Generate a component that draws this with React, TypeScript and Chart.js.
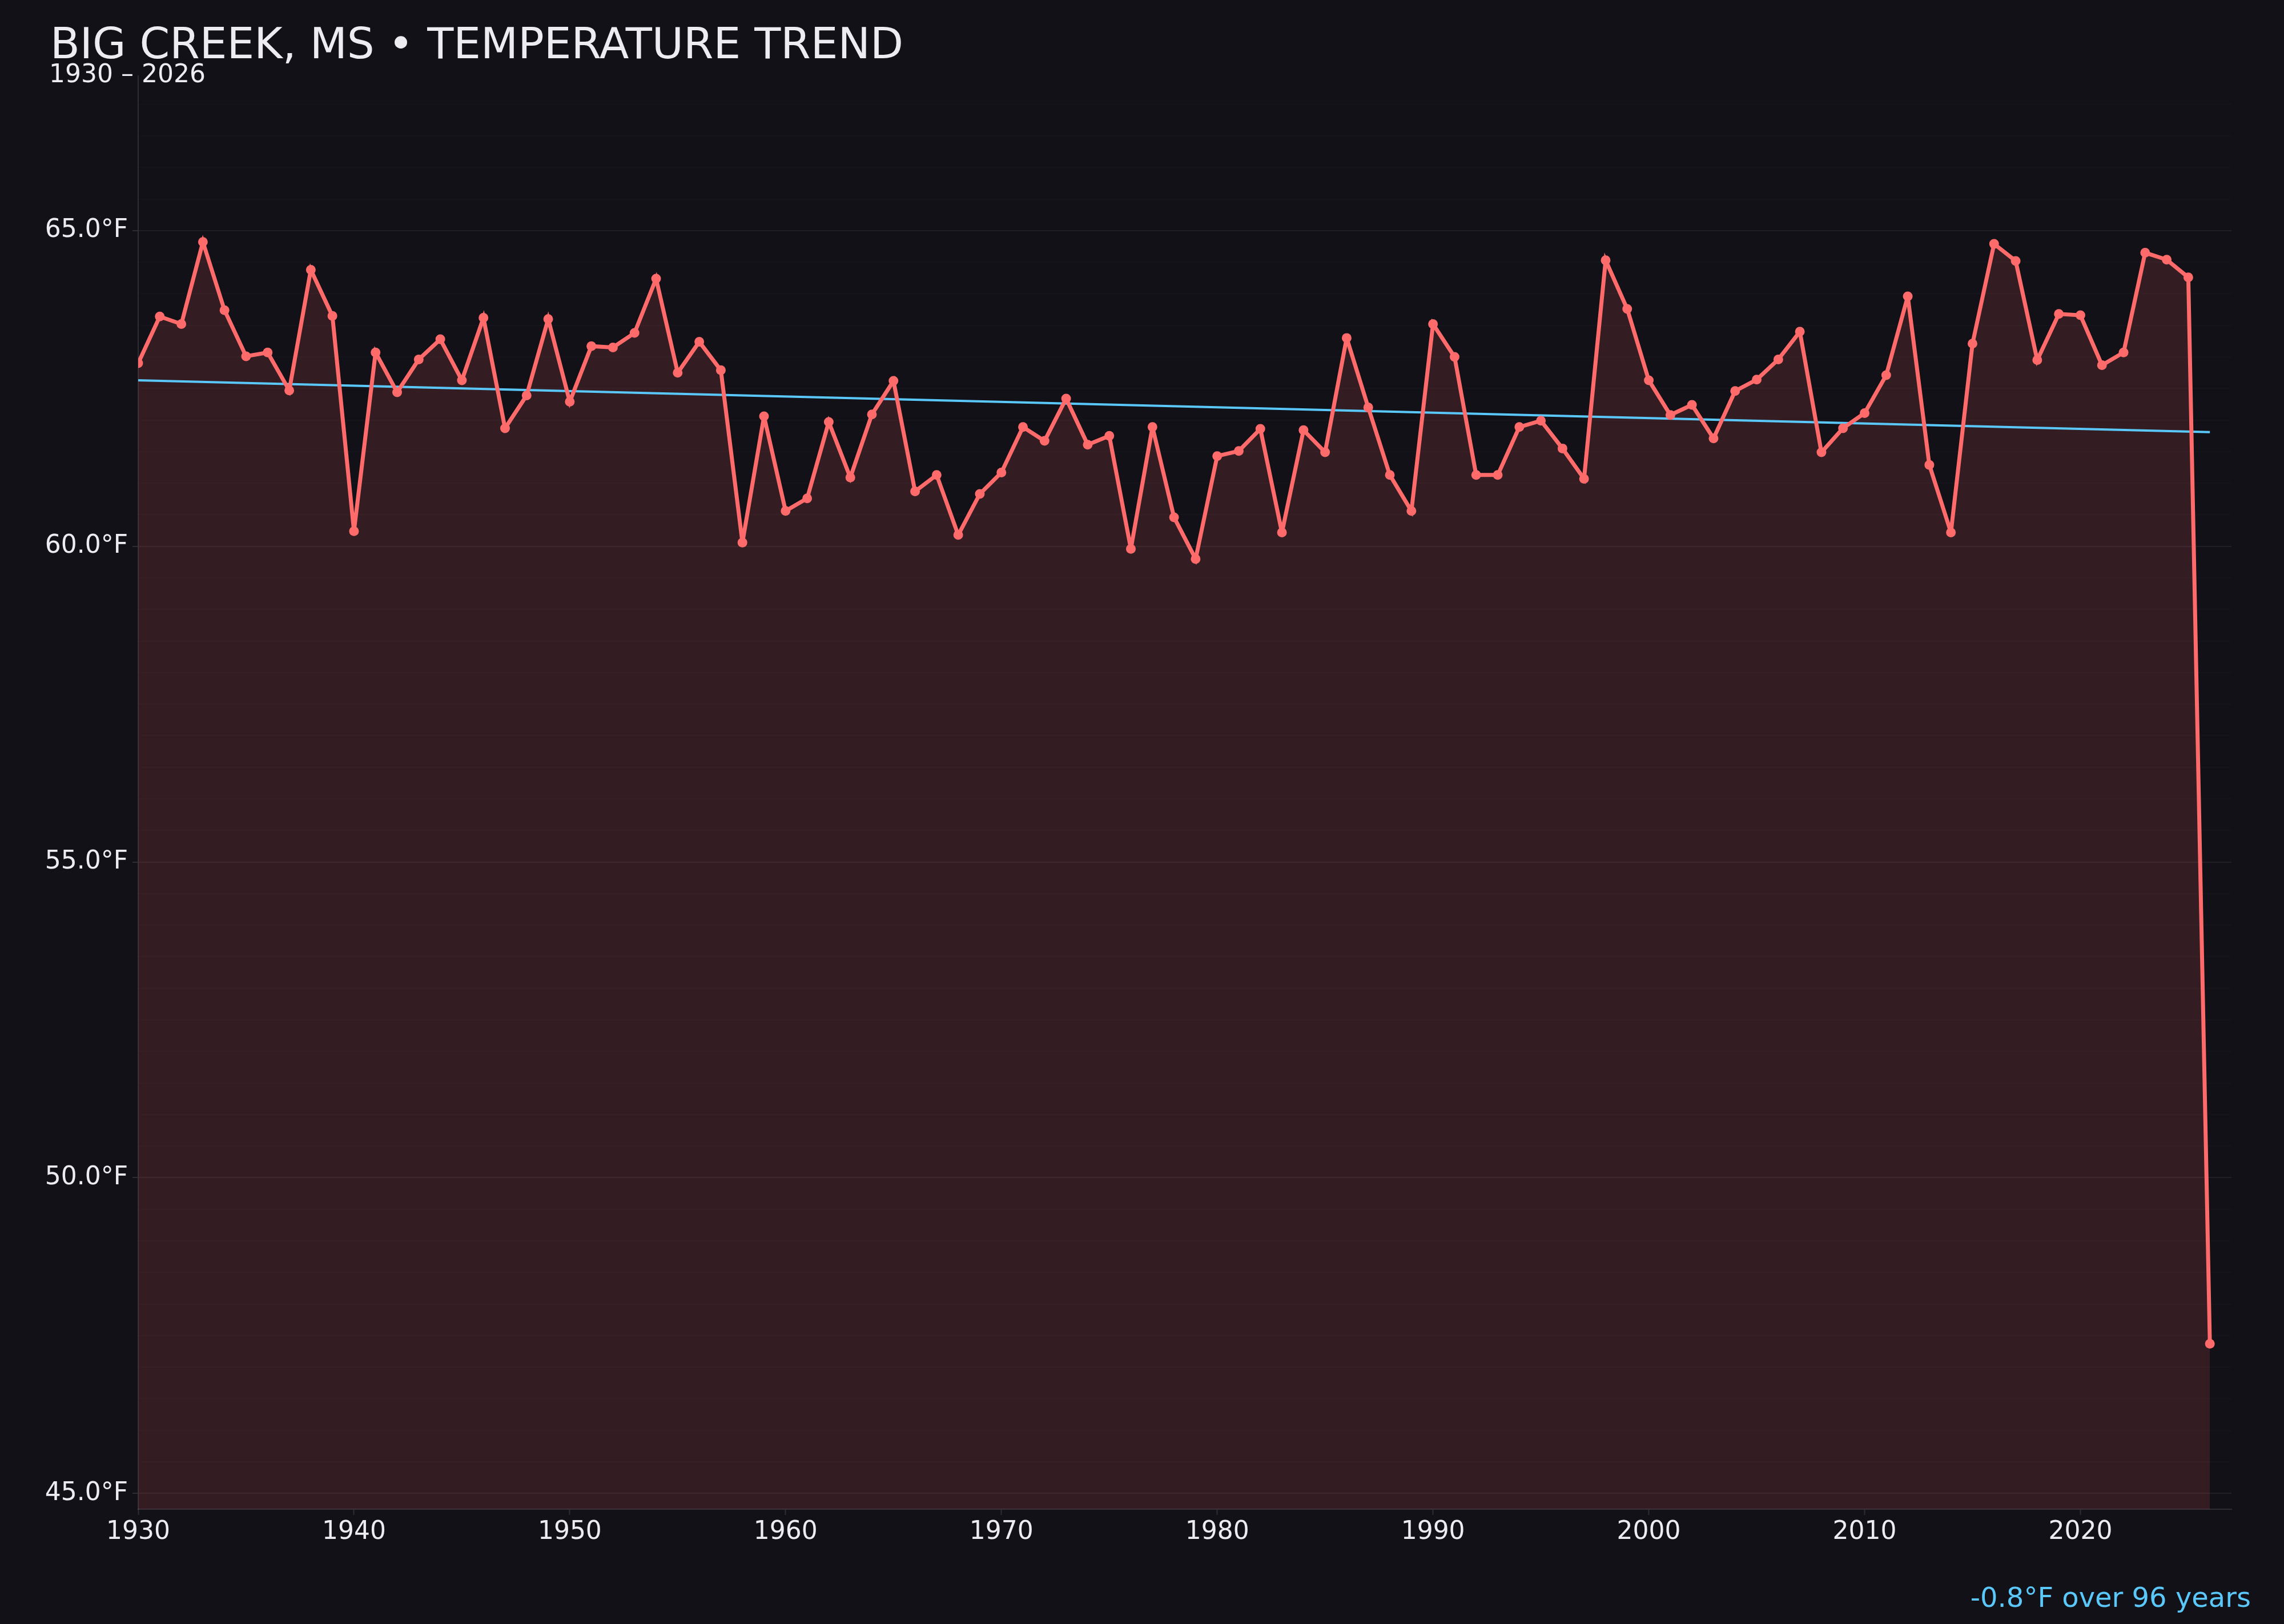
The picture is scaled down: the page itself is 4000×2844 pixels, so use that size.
import { useEffect, useRef } from "react";
import Chart from "chart.js/auto";

const TITLE = "BIG CREEK, MS • TEMPERATURE TREND";
const SUBTITLE = "1930 – 2026";

const START_YEAR = 1930;
// annual mean temperature (°F), one row per decade
const temps1930s = [62.9, 63.64, 63.52, 64.82, 63.74, 63.01, 63.07, 62.47, 64.38, 63.65];
const temps1940s = [60.24, 63.07, 62.44, 62.96, 63.28, 62.63, 63.62, 61.87, 62.39, 63.6];
const temps1950s = [62.29, 63.17, 63.15, 63.38, 64.24, 62.75, 63.24, 62.79, 60.06, 62.06];
const temps1960s = [60.56, 60.76, 61.97, 61.09, 62.09, 62.62, 60.87, 61.13, 60.18, 60.83];
const temps1970s = [61.17, 61.89, 61.67, 62.34, 61.61, 61.75, 59.96, 61.89, 60.46, 59.8];
const temps1980s = [61.43, 61.51, 61.86, 60.22, 61.84, 61.49, 63.3, 62.2, 61.13, 60.56];
const temps1990s = [63.52, 63.0, 61.13, 61.13, 61.89, 61.99, 61.55, 61.07, 64.53, 63.76];
const temps2000s = [62.63, 62.08, 62.24, 61.71, 62.46, 62.64, 62.96, 63.4, 61.49, 61.87];
const temps2010s = [62.11, 62.71, 63.96, 61.29, 60.22, 63.21, 64.79, 64.52, 62.95, 63.68];
const temps2020s = [63.66, 62.87, 63.07, 64.65, 64.54, 64.26, 47.37];

// linear trend end points
const trendYears = [1930, 2026];
const trendValues = [62.63, 61.81];

const BG = "#121118";
const LINE_COLOR = "#ff6b6b";
const FILL_COLOR = "rgba(255, 107, 107, 0.14)";
const TREND_COLOR = "#5ac8fa";
const TEXT_COLOR = "#ececf1";
const MAJOR_GRID = "rgba(255, 255, 255, 0.06)";
const MINOR_GRID = "rgba(255, 255, 255, 0.016)";
const AXIS_COLOR = "rgba(255, 255, 255, 0.12)";
const FONT = "'DejaVu Sans', sans-serif";

const isMajor = (v: number) => Math.abs(v / 5 - Math.round(v / 5)) < 1e-6;

// sharp joins get bevelled sooner, like an svg renderer
const miterPlugin = {
  id: "miter",
  beforeDatasetsDraw(chart: Chart) {
    chart.ctx.save();
    chart.ctx.miterLimit = 4;
  },
  afterDatasetsDraw(chart: Chart) {
    chart.ctx.restore();
  },
};

const headerPlugin = {
  id: "header",
  afterDraw(chart: Chart) {
    const ctx = chart.ctx;
    ctx.save();
    ctx.textBaseline = "alphabetic";
    ctx.textAlign = "left";
    ctx.fillStyle = TEXT_COLOR;
    ctx.font = `75.5px ${FONT}`;
    ctx.fillText(TITLE, 88, 102);
    ctx.font = `44px ${FONT}`;
    ctx.fillText(SUBTITLE, 86, 144);

    const change = trendValues[1] - trendValues[0];
    const span = trendYears[1] - trendYears[0];
    ctx.fillStyle = TREND_COLOR;
    ctx.font = `48px ${FONT}`;
    ctx.textAlign = "right";
    ctx.fillText(`${change.toFixed(1)}°F over ${span} years`, chart.width - 58, 2814);
    ctx.restore();
  },
};

const App = () => {
  const chartRef = useRef<HTMLCanvasElement>(null);
  const chartInstance = useRef<Chart | null>(null);

  useEffect(() => {
    document.body.style.margin = "0";
    document.body.style.background = BG;

    const temps = [
      ...temps1930s, ...temps1940s, ...temps1950s, ...temps1960s, ...temps1970s,
      ...temps1980s, ...temps1990s, ...temps2000s, ...temps2010s, ...temps2020s,
    ];
    const points = temps.map((t, i) => ({ x: START_YEAR + i, y: t }));
    const trend = trendYears.map((yr, i) => ({ x: yr, y: trendValues[i] }));

    if (chartRef.current) {
      const ctx = chartRef.current.getContext("2d");
      if (ctx) {
        chartInstance.current = new Chart(ctx, {
          type: "line",
          data: {
            datasets: [
              {
                label: "Temperature",
                data: points,
                borderColor: LINE_COLOR,
                backgroundColor: FILL_COLOR,
                borderWidth: 7,
                pointRadius: 8.5,
                pointBackgroundColor: LINE_COLOR,
                pointBorderWidth: 0,
                fill: "start",
                tension: 0,
              },
              {
                label: "Trend",
                data: trend,
                borderColor: TREND_COLOR,
                borderWidth: 4,
                pointRadius: 0,
                fill: false,
              },
            ],
          },
          options: {
            responsive: true,
            maintainAspectRatio: false,
            animation: false,
            devicePixelRatio: 1,
            layout: { padding: { top: 133, left: 78, right: 92, bottom: 111 } },
            plugins: {
              legend: { display: false },
              tooltip: { enabled: false },
              // @ts-ignore
              filler: { drawTime: "beforeDatasetsDraw" },
            },
            scales: {
              x: {
                type: "linear",
                min: 1930,
                max: 2027,
                afterFit: (scale: any) => {
                  scale.height = 90;
                },
                ticks: {
                  stepSize: 10,
                  includeBounds: false,
                  autoSkip: false,
                  maxRotation: 0,
                  padding: 4,
                  color: TEXT_COLOR,
                  font: { family: FONT, size: 44 },
                  callback: (v: any) => String(v),
                },
                grid: {
                  drawOnChartArea: false,
                  tickLength: 10,
                  tickColor: AXIS_COLOR,
                  tickWidth: 2,
                },
                border: { color: AXIS_COLOR, width: 2 },
              },
              y: {
                min: 44.75,
                max: 67.45,
                afterFit: (scale: any) => {
                  scale.width = 164;
                },
                ticks: {
                  stepSize: 0.5,
                  includeBounds: false,
                  autoSkip: false,
                  maxTicksLimit: 100,
                  padding: 8,
                  color: TEXT_COLOR,
                  font: { family: FONT, size: 44 },
                  callback: (v: any) => (isMajor(Number(v)) ? `${Number(v).toFixed(1)}°F` : ""),
                },
                grid: {
                  color: (c: any) => (isMajor(c.tick.value) ? MAJOR_GRID : MINOR_GRID),
                  tickColor: (c: any) => (isMajor(c.tick.value) ? AXIS_COLOR : "transparent"),
                  lineWidth: 2,
                  tickLength: 10,
                },
                border: { color: AXIS_COLOR, width: 2 },
              },
            },
          },
          plugins: [miterPlugin, headerPlugin],
        });
      }
    }

    return () => {
      if (chartInstance.current) {
        chartInstance.current.destroy();
        chartInstance.current = null;
      }
    };
  }, []);

  return (
    <div style={{ position: "fixed", left: 0, top: 0, width: "100vw", height: "100vh", background: BG }}>
      <canvas ref={chartRef} />
    </div>
  );
};

export default App;
